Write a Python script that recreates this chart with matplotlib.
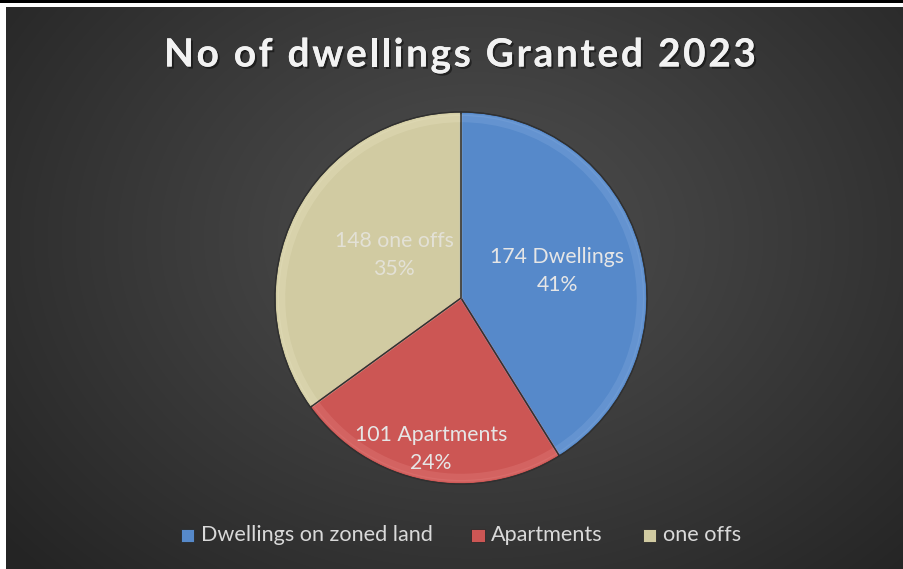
import numpy as np
import matplotlib
matplotlib.use("Agg")
import matplotlib.pyplot as plt
import matplotlib.patheffects as pe
from matplotlib.patches import Rectangle, Wedge

# dwellings granted in 2023
categories = ["Dwellings on zoned land", "Apartments", "one offs"]
counts = [174, 101, 148]
short_names = ["Dwellings", "Apartments", "one offs"]
colors = ["#5689CA", "#CC5654", "#D1CBA2"]
rim_colors = ["#7FA8DC", "#E27C7A", "#E6E1BE"]
label_colors = ["#E6E6E6", "#E6E6E6", "#E3E1D6"]
title = "No of dwellings Granted 2023"

W, H = 904, 569
fig = plt.figure(figsize=(W / 100, H / 100), dpi=100)
fig.patch.set_facecolor("white")

def fx(px):
    return px / W

def fy(py):
    return 1 - py / H

# frame line along the top
fig.add_artist(Rectangle((0, fy(3)), 1, 3 / H, transform=fig.transFigure,
                         facecolor="black", edgecolor="none"))

# dark radial-gradient panel
px0, py0, px1, py1 = 6, 7, 903, 569
bg = fig.add_axes([fx(px0), fy(py1), fx(px1 - px0), (py1 - py0) / H])
bg.set_axis_off()
ny, nx = py1 - py0, px1 - px0
yy, xx = np.mgrid[0:ny, 0:nx]
d = np.sqrt(((xx - 470) / 620.0) ** 2 + ((yy - 230) / 480.0) ** 2)
d = np.clip(d, 0, 1)
val = (0x4E - (0x4E - 0x24) * d ** 1.1) / 255.0
img = np.dstack([val, val, val])
bg.imshow(img, aspect="auto", extent=[0, nx, ny, 0], interpolation="bilinear")
bg.set_xlim(0, nx)
bg.set_ylim(ny, 0)

# title, letter-spaced by placing one character at a time
renderer = fig.canvas.get_renderer()
title_kw = dict(fontsize=28, fontweight="bold", family="Lato", color="#F2F2F2",
                va="center", ha="left",
                path_effects=[pe.withSimplePatchShadow(offset=(1.5, -1.5), shadow_rgbFace="black", alpha=0.45),
                              pe.Normal()])
widths = []
for ch in title:
    t = fig.text(0, 0, ch if ch != " " else "n", **title_kw)
    wpx = t.get_window_extent(renderer).width
    if ch == " ":
        wpx *= 0.45
    widths.append(wpx)
    t.remove()
title_left, title_right = 164, 756
gap = (title_right - title_left - sum(widths)) / (len(title) - 1)
x = title_left
for ch, wpx in zip(title, widths):
    if ch != " ":
        fig.text(fx(x), fy(55), ch, **title_kw)
    x += wpx + gap

# pie
cx, cy, R = 461, 298, 186
pad = 1.08
side = 2 * R * pad
ax = fig.add_axes([fx(cx - side / 2), fy(cy + side / 2), side / W, side / H])
ax.set_axis_off()

wedges, _ = ax.pie(counts, colors=colors, startangle=90, counterclock=False,
                   radius=1, wedgeprops=dict(edgecolor="#2E2E2E", linewidth=0.8))
ax.set_xlim(-pad, pad)
ax.set_ylim(-pad, pad)
ax.set_aspect("equal")

# bevel-like rim highlight and outline
for w, rc in zip(wedges, rim_colors):
    ax.add_patch(Wedge((0, 0), 0.985, w.theta1, w.theta2, width=0.04,
                       facecolor=rc, edgecolor="none", alpha=0.35))
    ax.add_patch(Wedge((0, 0), 0.985, w.theta1, w.theta2, facecolor="none",
                       edgecolor=rc, linewidth=1.8, alpha=0.35))
    ax.add_patch(Wedge((0, 0), 1.0, w.theta1, w.theta2, facecolor="none",
                       edgecolor="#303030", linewidth=0.9))

total = sum(counts)
label_pos = [(557, 271), (431, 449), (394, 255)]
for n, name, (lx, ly), lc in zip(counts, short_names, label_pos, label_colors):
    pct = round(100 * n / total)
    fig.text(fx(lx), fy(ly), f"{n} {name}\n{pct}%", ha="center", va="center",
             fontsize=15.3, family="Lato", color=lc, linespacing=1.55)

# legend
legend_x = [188, 478, 650]
for x, c, name in zip(legend_x, colors, categories):
    fig.add_artist(Rectangle((fx(x - 6.5), fy(541.5)), 13 / W, 13 / H,
                             transform=fig.transFigure, facecolor=c,
                             edgecolor="#2A2A2A", linewidth=0.6))
    fig.text(fx(x + 13), fy(535), name, ha="left", va="center",
             fontsize=15.6, family="Lato", color="#D9D9D9")

fig.savefig("out.png", dpi=100)
